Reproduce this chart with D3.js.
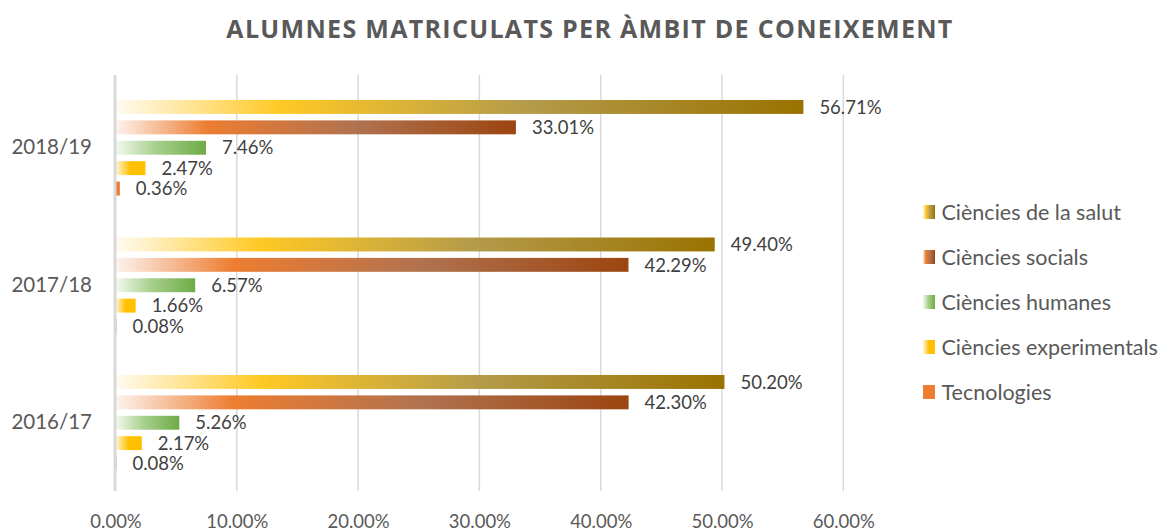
<!DOCTYPE html>
<html><head><meta charset="utf-8">
<script src="https://cdn.jsdelivr.net/npm/d3@7"></script>
<style>body{margin:0;background:#fff;}svg{display:block;font-family:Lato,"Open Sans",sans-serif;}</style>
</head><body>
<svg id="chart" width="1167" height="531"></svg>
<script>
const categories = ["2018/19", "2017/18", "2016/17"];
const seriesNames = ["Ciències de la salut", "Ciències socials", "Ciències humanes", "Ciències experimentals", "Tecnologies"];
const salut = [56.71, 49.40, 50.20];
const socials = [33.01, 42.29, 42.30];
const humanes = [7.46, 6.57, 5.26];
const experimentals = [2.47, 1.66, 2.17];
const tecnologies = [0.36, 0.08, 0.08];
const xTicks = [0, 10, 20, 30, 40, 50, 60];
const title = "ALUMNES MATRICULATS PER ÀMBIT DE CONEIXEMENT";

const seriesValues = [salut, socials, humanes, experimentals, tecnologies];
const gradStops = [
  [[0, "#fffbf2"], [0.24, "#ffc924"], [0.6, "#b49b4a"], [1, "#9a7200"]],
  [[0, "#fdf3ee"], [0.23, "#ed7d31"], [0.6, "#b0724f"], [1, "#9c4510"]],
  [[0, "#f3f9ef"], [0.45, "#a7cf8b"], [1, "#6eab46"]],
  [[0, "#fff6dc"], [0.5, "#ffc000"], [1, "#ffc000"]],
  [[0, "#ed7d31"], [1, "#ed7d31"]]
];

const svg = d3.select("#chart");
const defs = svg.append("defs");
gradStops.forEach((stops, i) => {
  const g = defs.append("linearGradient").attr("id", "g" + i)
    .attr("x1", "0").attr("x2", "1").attr("y1", "0").attr("y2", "0");
  stops.forEach(s => g.append("stop").attr("offset", s[0]).attr("stop-color", s[1]));
});

const x = d3.scaleLinear().domain([0, 60]).range([115.5, 843.3]);
const y = d3.scaleBand().domain(categories).range([79, 491.5]);
const ySub = d3.scaleBand().domain(d3.range(seriesNames.length)).range([0, y.bandwidth()])
  .paddingInner(0.317).paddingOuter(1.03);

// title
const t = svg.append("text").attr("x", 590).attr("y", 37.5).attr("text-anchor", "middle")
  .style("font-family", "'Open Sans', sans-serif")
  .attr("font-size", 25).attr("font-weight", 700)
  .attr("fill", "#595959").text(title);
const tw = t.node().getComputedTextLength();
t.attr("letter-spacing", Math.max(0, (726 - tw) / (title.length - 1)));

// gridlines
svg.append("g").selectAll("line").data(xTicks.slice(1)).join("line")
  .attr("x1", d => x(d)).attr("x2", d => x(d)).attr("y1", 75).attr("y2", 491)
  .attr("stroke", "#d9d9d9").attr("stroke-width", 1.5);

// x axis labels
const xAxis = d3.axisBottom(x).tickValues(xTicks).tickSize(0).tickPadding(0)
  .tickFormat(d => d.toFixed(2) + "%");
const gx = svg.append("g").attr("transform", "translate(0,515)").call(xAxis);
gx.select(".domain").remove();
gx.selectAll("text").attr("font-size", 18.5).attr("fill", "#595959").attr("font-family", "Lato,sans-serif");

// bars
const groups = svg.append("g").selectAll("g").data(categories).join("g")
  .attr("transform", d => `translate(0,${y(d)})`);
seriesValues.forEach((vals, si) => {
  groups.append("rect")
    .attr("x", x(0))
    .attr("y", ySub(si))
    .attr("width", (d, ci) => Math.max(0, x(vals[ci]) - x(0)))
    .attr("height", ySub.bandwidth())
    .attr("fill", `url(#g${si})`);
  groups.append("text")
    .attr("x", (d, ci) => x(vals[ci]) + 16)
    .attr("y", ySub(si) + ySub.bandwidth() / 2)
    .attr("dy", "0.36em")
    .attr("font-size", 18.5).attr("fill", "#404040")
    .text((d, ci) => vals[ci].toFixed(2) + "%");
});

// left axis line
svg.append("line").attr("x1", 115).attr("x2", 115).attr("y1", 75).attr("y2", 491)
  .attr("stroke", "#d9d9d9").attr("stroke-width", 3);

// y axis labels
const yAxis = d3.axisLeft(y).tickSize(0).tickPadding(0);
const gy = svg.append("g").attr("transform", "translate(92,0)").call(yAxis);
gy.select(".domain").remove();
gy.selectAll("text").attr("font-size", 20.5).attr("fill", "#595959").attr("font-family", "Lato,sans-serif");

// legend
const legend = svg.append("g").selectAll("g").data(seriesNames).join("g")
  .attr("transform", (d, i) => `translate(923,${212 + i * 45})`);
legend.append("rect").attr("x", 0).attr("y", -7).attr("width", 12).attr("height", 14)
  .attr("fill", (d, i) => `url(#g${i})`);
legend.append("text").attr("x", 18.5).attr("y", 0).attr("dy", "0.35em")
  .attr("font-size", 21.5).attr("fill", "#595959").text(d => d);
</script>
</body></html>
